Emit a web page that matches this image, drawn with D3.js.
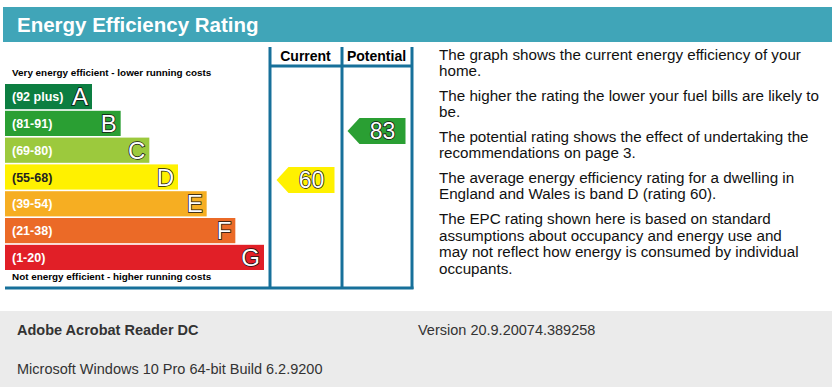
<!DOCTYPE html>
<html>
<head>
<meta charset="utf-8">
<script src="https://cdn.jsdelivr.net/npm/d3@7"></script>
<style>
  body { margin: 0; background: #fff; }
  svg { display: block; font-family: "Liberation Sans", Arial, sans-serif; }
</style>
</head>
<body>
<div id="chart"></div>
<script>
// Bands of the rating scale
const letters = ["A", "B", "C", "D", "E", "F", "G"];
const ranges = ["(92 plus)", "(81-91)", "(69-80)", "(55-68)", "(39-54)", "(21-38)", "(1-20)"];
const bandMin = [92, 81, 69, 55, 39, 21, 1];
const bandMax = [100, 91, 80, 68, 54, 38, 20];
const colors = ["#0c7e41", "#2a9f33", "#9cc93d", "#fff100", "#f6ae22", "#eb6a27", "#e11f27"];

// Ratings
const columns = ["Current", "Potential"];
const ratings = [60, 83];

const paragraphs = [
  ["The graph shows the current energy efficiency of your", "home."],
  ["The higher the rating the lower your fuel bills are likely to", "be."],
  ["The potential rating shows the effect of undertaking the", "recommendations on page 3."],
  ["The average energy efficiency rating for a dwelling in", "England and Wales is band D (rating 60)."],
  ["The EPC rating shown here is based on standard", "assumptions about occupancy and energy use and",
   "may not reflect how energy is consumed by individual", "occupants."]
];

const footer = [
  ["Adobe Acrobat Reader DC", "Version 20.9.20074.389258"],
  ["Microsoft Windows 10 Pro 64-bit Build 6.2.9200", ""]
];

const width = 832, height = 387;
const frameColor = "#17709a";

const svg = d3.select("#chart").append("svg")
  .attr("width", width)
  .attr("height", height)
  .attr("viewBox", [0, 0, width, height]);

// Header bar
svg.append("rect")
  .attr("x", 3).attr("y", 7).attr("width", width - 3).attr("height", 35)
  .attr("fill", "#40a5b8");
svg.append("text")
  .attr("x", 17).attr("y", 32)
  .attr("fill", "#fff")
  .attr("font-weight", "bold")
  .attr("font-size", 20.5)
  .text("Energy Efficiency Rating");

// Band scales
const y = d3.scaleBand().domain(letters).range([84, 270]).paddingInner(0.06).paddingOuter(0);
const barEnd = d3.scaleLinear().domain([0, letters.length - 1]).range([92, 264]);
const x0 = 5;

svg.append("text")
  .attr("x", 12).attr("y", 76)
  .attr("font-size", 9.9).attr("font-weight", "bold")
  .text("Very energy efficient - lower running costs");
svg.append("text")
  .attr("x", 12).attr("y", 280)
  .attr("font-size", 9.9).attr("font-weight", "bold")
  .text("Not energy efficient - higher running costs");

const bands = svg.append("g").selectAll("g")
  .data(letters)
  .join("g");

bands.append("rect")
  .attr("x", x0)
  .attr("y", d => y(d))
  .attr("width", (d, i) => barEnd(i) - x0)
  .attr("height", y.bandwidth())
  .attr("fill", (d, i) => colors[i]);

bands.append("text")
  .attr("x", 12)
  .attr("y", d => y(d) + y.bandwidth() / 2 + 4.5)
  .attr("font-size", 12.5).attr("font-weight", "bold")
  .attr("fill", (d, i) => i === 3 ? "#222" : "#fff")
  .text((d, i) => ranges[i]);

bands.append("text")
  .attr("x", (d, i) => barEnd(i) - 4)
  .attr("y", d => y(d) + y.bandwidth() / 2 + 8.5)
  .attr("text-anchor", "end")
  .attr("font-size", 24)
  .attr("fill", "#fff")
  .attr("stroke", "#111")
  .attr("stroke-width", 1.5)
  .attr("paint-order", "stroke")
  .text(d => d);

// Frame
const colX = [270, 342, 412];
const frame = svg.append("g").attr("stroke", frameColor).attr("stroke-width", 3).attr("fill", "none");
colX.forEach(cx => frame.append("line").attr("x1", cx).attr("x2", cx).attr("y1", 47).attr("y2", 289));
frame.append("line").attr("x1", colX[0]).attr("x2", colX[2]).attr("y1", 66).attr("y2", 66);
frame.append("line").attr("x1", 5).attr("x2", colX[2] + 1.5).attr("y1", 288).attr("y2", 288);

const colCenter = d3.scaleBand().domain(columns).range([colX[0], colX[2]]);
svg.append("g").selectAll("text")
  .data(columns)
  .join("text")
  .attr("x", d => colCenter(d) + colCenter.bandwidth() / 2)
  .attr("y", 61)
  .attr("text-anchor", "middle")
  .attr("font-size", 14).attr("font-weight", "bold")
  .text(d => d);

// Rating arrows: position within the rating's band
function ratingY(v) {
  const i = bandMin.findIndex(m => v >= m);
  const s = d3.scaleLinear().domain([bandMax[i], bandMin[i]]).range([y(letters[i]), y(letters[i]) + y.bandwidth()]);
  return { y: s(v), i };
}

const arrowW = 58, arrowH = 26, tip = 12;
const arrows = svg.append("g").selectAll("g")
  .data(ratings)
  .join("g")
  .attr("transform", (d, k) => {
    const r = ratingY(d);
    const left = colCenter(columns[k]) + (colCenter.bandwidth() - arrowW) / 2;
    return `translate(${left},${r.y - arrowH / 2})`;
  });

arrows.append("path")
  .attr("d", `M0,${arrowH / 2}L${tip},0H${arrowW}V${arrowH}H${tip}Z`)
  .attr("fill", d => colors[ratingY(d).i]);

arrows.append("text")
  .attr("x", tip + (arrowW - tip) / 2)
  .attr("y", arrowH / 2 + 8)
  .attr("text-anchor", "middle")
  .attr("font-size", 23)
  .attr("fill", "#fff")
  .attr("stroke", "#111")
  .attr("stroke-width", 1.5)
  .attr("paint-order", "stroke")
  .text(d => d);

// Explanatory text
let ty = 59.5;
const para = svg.append("g").attr("font-size", 15.2).attr("fill", "#111");
paragraphs.forEach(lines => {
  lines.forEach(line => {
    para.append("text").attr("x", 439).attr("y", ty).text(line);
    ty += 16.6;
  });
  ty += 7.9;
});

// Footer
svg.append("rect")
  .attr("x", 0).attr("y", 311).attr("width", width).attr("height", height - 311)
  .attr("fill", "#ebebeb");
const foot = svg.append("g")
  .attr("font-size", 14.5)
  .attr("fill", "#333");
footer.forEach((row, r) => {
  foot.append("text").attr("x", 17).attr("y", 335 + r * 38.5)
    .attr("font-weight", r === 0 ? "bold" : "normal").text(row[0]);
  if (row[1]) foot.append("text").attr("x", 418).attr("y", 335 + r * 38.5).text(row[1]);
});
</script>
</body>
</html>
